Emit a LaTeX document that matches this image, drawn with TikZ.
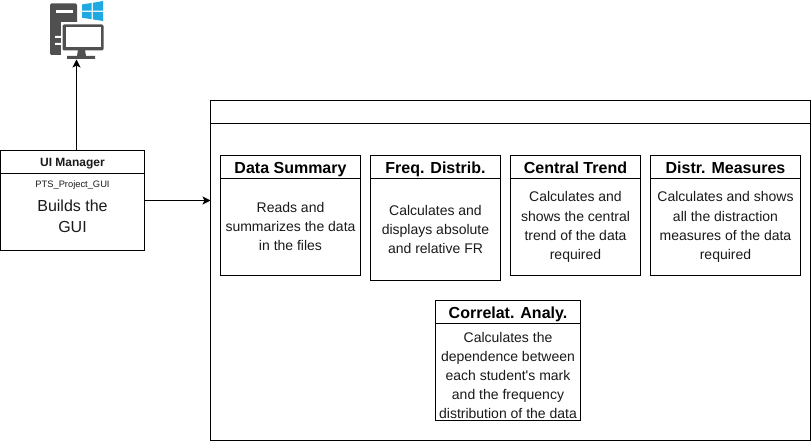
\documentclass[tikz,border=0pt]{standalone}
\usepackage{fontspec}
\setmainfont{Liberation Sans}
\definecolor{iconGrey}{HTML}{505050}
\definecolor{winBlue}{HTML}{1FA9E1}
\definecolor{txt}{HTML}{1A1A1A}
\tikzset{
  panel/.style={draw=black,line width=0.75pt,fill=white,inner sep=0pt,outer sep=0pt,anchor=north west},
  divider/.style={draw=black,line width=0.75pt},
  title/.style={font=\fontsize{12}{14}\selectfont\bfseries,text=black,inner sep=0pt,anchor=base},
  smalltitle/.style={font=\fontsize{9}{11}\selectfont\bfseries,text=txt,inner sep=0pt,anchor=base},
  body/.style={font=\fontsize{10.5}{14.4}\selectfont,text=txt,align=center,inner sep=0pt},
  tiny/.style={font=\fontsize{7}{9}\selectfont,text=txt,inner sep=0pt,anchor=base},
  big/.style={font=\fontsize{12}{15.4}\selectfont,text=txt,align=center,inner sep=0pt},
  link/.style={draw=black,line width=0.75pt,-{Stealth[length=6pt,width=6pt,inset=1.5pt]}},
}
\usetikzlibrary{arrows.meta}
\begin{document}
\begin{tikzpicture}[x=0.75pt,y=-0.75pt]
\useasboundingbox (0,0) rectangle (811,441);
% outer panel
\node[panel,minimum width=450pt,minimum height=255pt] (outer) at (210.5,100.5) {};
\draw[divider] (210.5,123.5) -- (810.5,123.5);
% UI manager
\node[panel,minimum width=108pt,minimum height=75pt] (ui) at (0.5,150.5) {};
\draw[divider] (0.5,173.5) -- (144.5,173.5);
\node[smalltitle] (uit) at (72.5,166.5) {UI Manager};
\node[tiny] (uis) at (72.5,188) {PTS\_Project\_GUI};
\node[big] (uib) at (72.5,216.5) {Builds the\\GUI};
% Data summary
\node[panel,minimum width=105pt,minimum height=90pt] (ds) at (220.5,155.5) {};
\draw[divider] (220.5,178.5) -- (360.5,178.5);
\node[title] (dst) at (290.5,173.5) {Data Summary};
\node[body] (dsb) at (290.5,226.5) {Reads and\\summarizes the data\\in the files};
% Freq
\node[panel,minimum width=97.5pt,minimum height=93.75pt] (fd) at (370.5,155.5) {};
\draw[divider] (370.5,178.5) -- (500.5,178.5);
\node[title] (fdt) at (435.5,173.5) {Freq. Distrib.};
\node[body] (fdb) at (435.5,229.5) {Calculates and\\displays absolute\\and relative FR};
% Central
\node[panel,minimum width=97.5pt,minimum height=90pt] (ct) at (510.5,155.5) {};
\draw[divider] (510.5,178.5) -- (640.5,178.5);
\node[title] (ctt) at (575.5,173.5) {Central Trend};
\node[body] (ctb) at (575.5,227) {Calculates and\\shows the central\\trend of the data\\required};
% Distr
\node[panel,minimum width=112.5pt,minimum height=90pt] (dm) at (650.5,155.5) {};
\draw[divider] (650.5,178.5) -- (800.5,178.5);
\node[title] (dmt) at (725.5,173.5) {Distr. Measures};
\node[body] (dmb) at (725.5,227) {Calculates and shows\\all the distraction\\measures of the data\\required};
% Correlation
\node[panel,minimum width=108.75pt,minimum height=90pt] (ca) at (435.5,300.5) {};
\draw[divider] (435.5,323.5) -- (580.5,323.5);
\node[title] (cat) at (508,318.5) {Correlat. Analy.};
\node[body] (cab) at (508,375.5) {Calculates the\\dependence between\\each student\textquotesingle s mark\\and the frequency\\distribution of the data};
% icon
\fill[iconGrey,rounded corners=1pt] (50,3.5) rectangle (77,55);
\fill[white] (56,10) rectangle (73,12.6);
\fill[white] (55,36) rectangle (62,38) (55,43) rectangle (62,45);
\fill[white] (60.5,22.5) rectangle (105,60);
\fill[iconGrey,rounded corners=1pt] (62.5,24.5) rectangle (103.5,50.5);
\fill[white] (65.5,27.5) rectangle (100.5,47.5);
\fill[iconGrey] (78,50) -- (85,50) -- (86,56) -- (95,56) -- (95,59) -- (67,59) -- (67,56) -- (77,56) -- cycle;
\fill[winBlue] (82,4.5) -- (91.5,3) -- (91.5,10.6) -- (82,10.6) -- cycle;
\fill[winBlue] (92.8,2.8) -- (103,1) -- (103,10.6) -- (92.8,10.6) -- cycle;
\fill[winBlue] (82,11.8) -- (91.5,11.8) -- (91.5,19.2) -- (82,17.8) -- cycle;
\fill[winBlue] (92.8,11.8) -- (103,11.8) -- (103,21) -- (92.8,19.4) -- cycle;
\coordinate (icon) at (76.5,59.5);
% connectors
\draw[link] (ui.north -| icon) -- (icon);
\draw[link] (ui.east) -- (ui.east -| outer.west);
\end{tikzpicture}
\end{document}
